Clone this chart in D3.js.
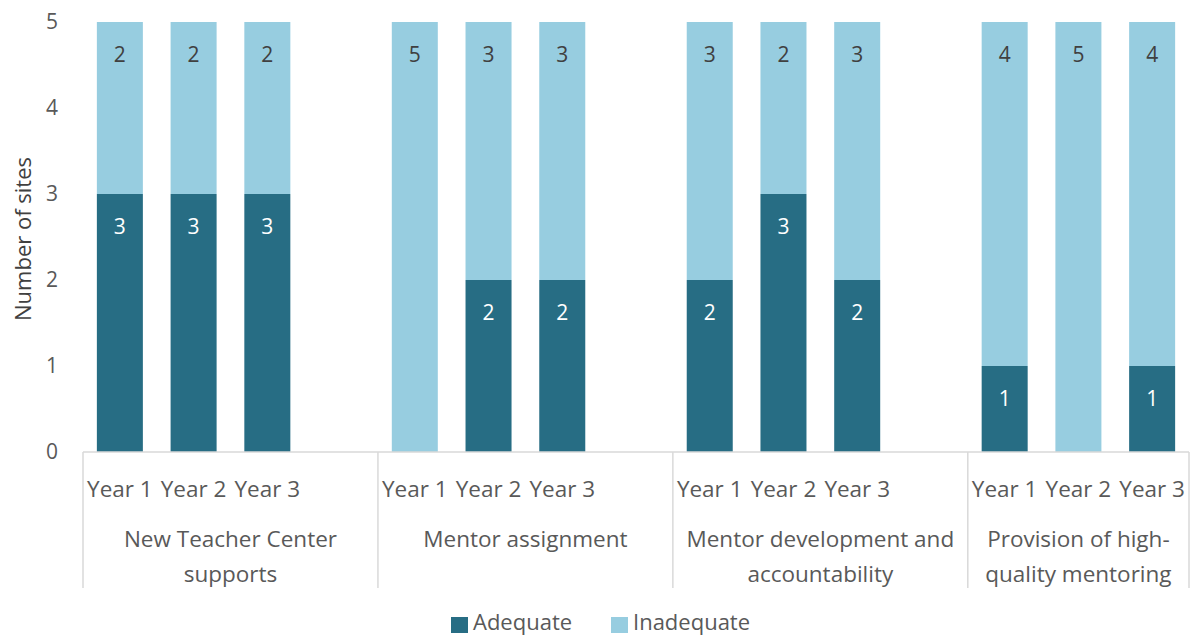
<!DOCTYPE html>
<html>
<head>
<meta charset="utf-8">
<script src="https://cdn.jsdelivr.net/npm/d3@7"></script>
<style>
  html, body { margin: 0; padding: 0; background: #fff; }
  svg { display: block; font-family: "Open Sans", "Noto Sans", sans-serif; }
</style>
</head>
<body>
<svg id="chart" width="1192" height="638"></svg>
<script>
// Program areas and years
const groups = ["New Teacher Center supports", "Mentor assignment", "Mentor development and accountability", "Provision of high-quality mentoring"];
const groupLines = [["New Teacher Center", "supports"], ["Mentor assignment"], ["Mentor development and", "accountability"], ["Provision of high-", "quality mentoring"]];
const years = ["Year 1", "Year 2", "Year 3"];

// Number of sites rated in each category, by group then year
const adequate = [[3, 3, 3], [0, 2, 2], [2, 3, 2], [1, 0, 1]];
const inadequate = [[2, 2, 2], [5, 3, 3], [3, 2, 3], [4, 5, 4]];

const seriesNames = ["Adequate", "Inadequate"];
const yTicks = [0, 1, 2, 3, 4, 5];

const colors = { Adequate: "#276d84", Inadequate: "#97cde0" };

const svg = d3.select("#chart");
const plot = { left: 83, right: 1189, top: 22, bottom: 452 };

// Slot keys: three years per group, then a blank spacer between groups
const slots = [];
groups.forEach((g, gi) => {
  years.forEach(y => slots.push(gi + "|" + y));
  if (gi < groups.length - 1) slots.push(gi + "|gap");
});

const pInner = 0.376;
const x = d3.scaleBand()
  .domain(slots)
  .range([plot.left, plot.right])
  .paddingInner(pInner)
  .paddingOuter(pInner / 2);

const y = d3.scaleLinear().domain([0, 5]).range([plot.bottom, plot.top]);

// Flatten into rows for stacking
const rows = [];
groups.forEach((g, gi) => years.forEach((yr, yi) => {
  rows.push({ key: gi + "|" + yr, Adequate: adequate[gi][yi], Inadequate: inadequate[gi][yi] });
}));

const stacked = d3.stack().keys(seriesNames)(rows);

// Bars
const layer = svg.append("g").selectAll("g").data(stacked).join("g")
  .attr("fill", d => colors[d.key]);

layer.selectAll("rect").data(d => d.map(p => ({ p, key: d.key })))
  .join("rect")
  .attr("x", d => x(d.p.data.key))
  .attr("width", x.bandwidth())
  .attr("y", d => y(d.p[1]))
  .attr("height", d => y(d.p[0]) - y(d.p[1]));

// Value labels (inside end)
layer.selectAll("text").data(d => d.map(p => ({ p, key: d.key })).filter(d => d.p.data[d.key] > 0))
  .join("text")
  .attr("x", d => x(d.p.data.key) + x.bandwidth() / 2)
  .attr("y", d => y(d.p[1]) + 32)
  .attr("text-anchor", "middle")
  .attr("dominant-baseline", "central")
  .attr("font-size", 21)
  .attr("fill", d => d.key === "Adequate" ? "#ffffff" : "#404040")
  .text(d => d.p.data[d.key]);

// Y axis
const yAxis = svg.append("g")
  .attr("transform", `translate(${plot.left},0)`)
  .call(d3.axisLeft(y).tickValues(yTicks).tickSize(0).tickPadding(25).tickFormat(d3.format("d")));
yAxis.select(".domain").remove();
yAxis.selectAll("text").attr("font-size", 21).attr("fill", "#595959").attr("font-family", "Open Sans, sans-serif");

svg.append("text")
  .attr("transform", `translate(22,${(y(0) + y(5)) / 2 + 2}) rotate(-90)`)
  .attr("text-anchor", "middle")
  .attr("dominant-baseline", "central")
  .attr("font-size", 22)
  .attr("fill", "#404040")
  .text("Number of sites");

// X axis baseline and group dividers
const axisG = svg.append("g");
axisG.append("line")
  .attr("x1", plot.left).attr("x2", plot.right)
  .attr("y1", y(0)).attr("y2", y(0))
  .attr("stroke", "#d9d9d9").attr("stroke-width", 1.5);

const step = x.step();
const boundaries = [plot.left];
groups.forEach((g, gi) => {
  if (gi < groups.length - 1) boundaries.push(x(gi + "|gap") + x.bandwidth() + step * pInner / 2);
});
boundaries.push(plot.right);

axisG.selectAll("line.div").data(boundaries).join("line")
  .attr("class", "div")
  .attr("x1", d => d).attr("x2", d => d)
  .attr("y1", y(0)).attr("y2", 588)
  .attr("stroke", "#d9d9d9").attr("stroke-width", 1.5);

// Year labels
axisG.selectAll("text.year").data(rows).join("text")
  .attr("class", "year")
  .attr("x", d => x(d.key) + x.bandwidth() / 2)
  .attr("y", 488)
  .attr("text-anchor", "middle")
  .attr("dominant-baseline", "central")
  .attr("font-size", 22.5)
  .attr("fill", "#595959")
  .text(d => d.key.split("|")[1]);

// Group labels
const gl = axisG.selectAll("text.group").data(groupLines).join("text")
  .attr("class", "group")
  .attr("x", (d, i) => (boundaries[i] + boundaries[i + 1]) / 2)
  .attr("y", 539)
  .attr("text-anchor", "middle")
  .attr("font-size", 22.5)
  .attr("fill", "#595959");
gl.selectAll("tspan").data(d => d).join("tspan")
  .attr("x", function () { return d3.select(this.parentNode).attr("x"); })
  .attr("dy", (d, i) => i === 0 ? "0.35em" : "1.55em")
  .text(d => d);

// Legend
const legend = svg.append("g").attr("transform", "translate(451,621)");
const legendX = [0, 160];
seriesNames.forEach((s, i) => {
  const g = legend.append("g").attr("transform", `translate(${legendX[i]},0)`);
  g.append("rect").attr("x", 0).attr("y", -4).attr("width", 17).attr("height", 16).attr("fill", colors[s]);
  g.append("text").attr("x", 22).attr("y", 0)
    .attr("dominant-baseline", "central")
    .attr("font-size", 22).attr("fill", "#595959")
    .text(s);
});
</script>
</body>
</html>
